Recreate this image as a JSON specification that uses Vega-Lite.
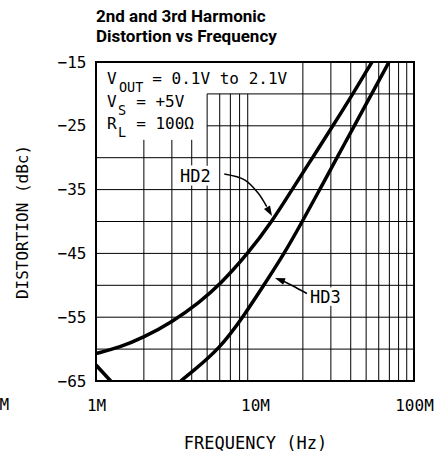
{
  "$schema": "https://vega.github.io/schema/vega-lite/v6.json",
  "width": 318,
  "height": 319,
  "autosize": {"type": "none"},
  "padding": {"left": 96, "top": 62, "right": 20, "bottom": 75},
  "background": "white",
  "config": {
    "view": {"stroke": "black", "strokeWidth": 2},
    "font": "DejaVu Sans Mono",
    "axis": {"domain": false, "ticks": false, "grid": false, "labelColor": "black", "titleColor": "black", "labelFont": "DejaVu Sans Mono", "titleFont": "DejaVu Sans Mono", "labelFontSize": 16, "titleFontSize": 16, "titleFontWeight": "normal"}
  },
  "title": {"text": ["2nd and 3rd Harmonic", "Distortion vs Frequency"], "anchor": "start", "frame": "group", "font": "Roboto", "fontWeight": "bold", "fontSize": 17, "lineHeight": 20, "color": "black", "offset": 8},
  "datasets": {
    "curves": [
      {"s": "HD2", "f": 1.0e6, "db": -60.7},
      {"s": "HD2", "f": 1.42e6, "db": -59.7},
      {"s": "HD2", "f": 1.98e6, "db": -58.2},
      {"s": "HD2", "f": 3.0e6, "db": -55.8},
      {"s": "HD2", "f": 4.5e6, "db": -52.6},
      {"s": "HD2", "f": 5.96e6, "db": -50.0},
      {"s": "HD2", "f": 9.04e6, "db": -45.0},
      {"s": "HD2", "f": 12.8e6, "db": -40.0},
      {"s": "HD2", "f": 17.1e6, "db": -35.0},
      {"s": "HD2", "f": 23.0e6, "db": -30.0},
      {"s": "HD2", "f": 30.9e6, "db": -25.0},
      {"s": "HD2", "f": 41.3e6, "db": -20.0},
      {"s": "HD2", "f": 54.4e6, "db": -15.0},
      {"s": "HD3a", "f": 1.0e6, "db": -62.5},
      {"s": "HD3a", "f": 1.237e6, "db": -65.0},
      {"s": "HD3b", "f": 3.41e6, "db": -65.0},
      {"s": "HD3b", "f": 4.09e6, "db": -63.4},
      {"s": "HD3b", "f": 5.95e6, "db": -60.0},
      {"s": "HD3b", "f": 8.4e6, "db": -55.0},
      {"s": "HD3b", "f": 11.35e6, "db": -50.0},
      {"s": "HD3b", "f": 15.3e6, "db": -45.0},
      {"s": "HD3b", "f": 19.84e6, "db": -40.0},
      {"s": "HD3b", "f": 25.5e6, "db": -35.0},
      {"s": "HD3b", "f": 32.8e6, "db": -30.0},
      {"s": "HD3b", "f": 42.1e6, "db": -25.0},
      {"s": "HD3b", "f": 54.2e6, "db": -20.0},
      {"s": "HD3b", "f": 69.6e6, "db": -15.0}
    ],
    "vgrid": [
      {"f": 2e6, "lo": -65, "hi": -27.2},
      {"f": 3e6, "lo": -65, "hi": -27.2},
      {"f": 4e6, "lo": -65, "hi": -27.2},
      {"f": 5e6, "lo": -65, "hi": -20},
      {"f": 6e6, "lo": -65, "hi": -20},
      {"f": 7e6, "lo": -65, "hi": -20},
      {"f": 8e6, "lo": -65, "hi": -20},
      {"f": 9e6, "lo": -65, "hi": -20},
      {"f": 2e7, "lo": -65, "hi": -15},
      {"f": 3e7, "lo": -65, "hi": -15},
      {"f": 4e7, "lo": -65, "hi": -15},
      {"f": 5e7, "lo": -65, "hi": -15},
      {"f": 6e7, "lo": -65, "hi": -15},
      {"f": 7e7, "lo": -65, "hi": -15},
      {"f": 8e7, "lo": -65, "hi": -15},
      {"f": 9e7, "lo": -65, "hi": -15}
    ],
    "hgrid": [
      {"db": -20, "f0": 5e6, "f1": 1e8},
      {"db": -25, "f0": 5e6, "f1": 1e8},
      {"db": -30, "f0": 1e6, "f1": 1e8},
      {"db": -35, "f0": 1e6, "f1": 1e8},
      {"db": -40, "f0": 1e6, "f1": 1e8},
      {"db": -45, "f0": 1e6, "f1": 1e8},
      {"db": -50, "f0": 1e6, "f1": 1e8},
      {"db": -55, "f0": 1e6, "f1": 1e8},
      {"db": -60, "f0": 1e6, "f1": 1e8}
    ],
    "notes": [
      {"t": "V", "f": 1.173e6, "db": -18.5},
      {"t": "= 0.1V to 2.1V", "f": 2.26e6, "db": -18.5},
      {"t": "V", "f": 1.173e6, "db": -22.13},
      {"t": "= +5V", "f": 1.79e6, "db": -22.13},
      {"t": "R", "f": 1.173e6, "db": -25.5},
      {"t": "= 100Ω", "f": 1.79e6, "db": -25.5}
    ],
    "subs": [
      {"t": "OUT", "f": 1.395e6, "db": -19.65},
      {"t": "S", "f": 1.375e6, "db": -23.3},
      {"t": "L", "f": 1.375e6, "db": -26.8}
    ],
    "labels": [
      {"t": "HD2", "f": 3.376e6, "db": -33.86},
      {"t": "HD3", "f": 22.18e6, "db": -52.73}
    ],
    "arrows": [
      {"a": "HD2", "f": 6.41e6, "db": -32.55},
      {"a": "HD2", "f": 8.65e6, "db": -33.5},
      {"a": "HD2", "f": 10.49e6, "db": -35.58},
      {"a": "HD2", "f": 11.85e6, "db": -37.68},
      {"a": "HD3", "f": 15.0e6, "db": -49.33},
      {"a": "HD3", "f": 17.09e6, "db": -50.03},
      {"a": "HD3", "f": 21.23e6, "db": -51.29}
    ],
    "heads": [
      {"a": "HD2", "f": 12.79e6, "db": -39.14},
      {"a": "HD3", "f": 13.36e6, "db": -48.86}
    ],
    "stray": [
      {"t": "M", "f": 0.284e6, "db": -69.55}
    ]
  },
  "layer": [
    {
      "data": {"name": "hgrid"},
      "mark": {"type": "rule", "color": "black", "strokeWidth": 1},
      "encoding": {
        "x": {"field": "f0", "type": "quantitative", "scale": {"type": "log", "domain": [1e6, 1e8], "nice": false},
              "axis": {"values": [1e6, 1e7, 1e8], "labelExpr": "datum.value / 1e6 + 'M'", "title": "FREQUENCY (Hz)", "labelPadding": 16, "titlePadding": 22, "labelFlush": false, "labelOverlap": false, "titleFontSize": 17}},
        "x2": {"field": "f1"},
        "y": {"field": "db", "type": "quantitative", "scale": {"domain": [-65, -15], "nice": false, "zero": false},
              "axis": {"values": [-15, -25, -35, -45, -55, -65], "title": "DISTORTION (dBc)", "labelPadding": 10, "titlePadding": 27, "labelOverlap": false}}
      }
    },
    {
      "data": {"name": "vgrid"},
      "mark": {"type": "rule", "color": "black", "strokeWidth": 1},
      "encoding": {
        "x": {"field": "f", "type": "quantitative"},
        "y": {"field": "lo", "type": "quantitative"},
        "y2": {"field": "hi"}
      }
    },
    {
      "data": {"name": "curves"},
      "mark": {"type": "line", "color": "black", "strokeWidth": 3.5, "interpolate": "basis", "clip": true},
      "encoding": {
        "x": {"field": "f", "type": "quantitative"},
        "y": {"field": "db", "type": "quantitative"},
        "detail": {"field": "s"}
      }
    },
    {
      "data": {"name": "arrows"},
      "mark": {"type": "line", "color": "black", "strokeWidth": 1.5, "interpolate": "catmull-rom"},
      "encoding": {
        "x": {"field": "f", "type": "quantitative"},
        "y": {"field": "db", "type": "quantitative"},
        "detail": {"field": "a"}
      }
    },
    {
      "data": {"name": "heads"},
      "transform": [{"filter": "datum.a == 'HD2'"}],
      "mark": {"type": "point", "shape": "M0,0L0.35,1L-0.35,1Z", "filled": true, "color": "black", "opacity": 1, "size": 400, "angle": 150},
      "encoding": {
        "x": {"field": "f", "type": "quantitative"},
        "y": {"field": "db", "type": "quantitative"}
      }
    },
    {
      "data": {"name": "heads"},
      "transform": [{"filter": "datum.a == 'HD3'"}],
      "mark": {"type": "point", "shape": "M0,0L0.35,1L-0.35,1Z", "filled": true, "color": "black", "opacity": 1, "size": 400, "angle": 290},
      "encoding": {
        "x": {"field": "f", "type": "quantitative"},
        "y": {"field": "db", "type": "quantitative"}
      }
    },
    {
      "data": {"name": "labels"},
      "mark": {"type": "text", "align": "left", "baseline": "alphabetic", "fontSize": 17, "font": "DejaVu Sans Mono", "fill": "white", "stroke": "white", "strokeWidth": 7, "strokeJoin": "round"},
      "encoding": {
        "x": {"field": "f", "type": "quantitative"},
        "y": {"field": "db", "type": "quantitative"},
        "text": {"field": "t"}
      }
    },
    {
      "data": {"name": "labels"},
      "mark": {"type": "text", "align": "left", "baseline": "alphabetic", "fontSize": 17, "font": "DejaVu Sans Mono", "color": "black"},
      "encoding": {
        "x": {"field": "f", "type": "quantitative"},
        "y": {"field": "db", "type": "quantitative"},
        "text": {"field": "t"}
      }
    },
    {
      "data": {"name": "notes"},
      "mark": {"type": "text", "align": "left", "baseline": "alphabetic", "fontSize": 16, "font": "DejaVu Sans Mono", "color": "black"},
      "encoding": {
        "x": {"field": "f", "type": "quantitative"},
        "y": {"field": "db", "type": "quantitative"},
        "text": {"field": "t"}
      }
    },
    {
      "data": {"name": "subs"},
      "mark": {"type": "text", "align": "left", "baseline": "alphabetic", "fontSize": 13.5, "font": "DejaVu Sans Mono", "color": "black"},
      "encoding": {
        "x": {"field": "f", "type": "quantitative"},
        "y": {"field": "db", "type": "quantitative"},
        "text": {"field": "t"}
      }
    },
    {
      "data": {"name": "stray"},
      "mark": {"type": "text", "align": "right", "baseline": "alphabetic", "fontSize": 16, "font": "DejaVu Sans Mono", "color": "black"},
      "encoding": {
        "x": {"field": "f", "type": "quantitative"},
        "y": {"field": "db", "type": "quantitative"},
        "text": {"field": "t"}
      }
    }
  ]
}
